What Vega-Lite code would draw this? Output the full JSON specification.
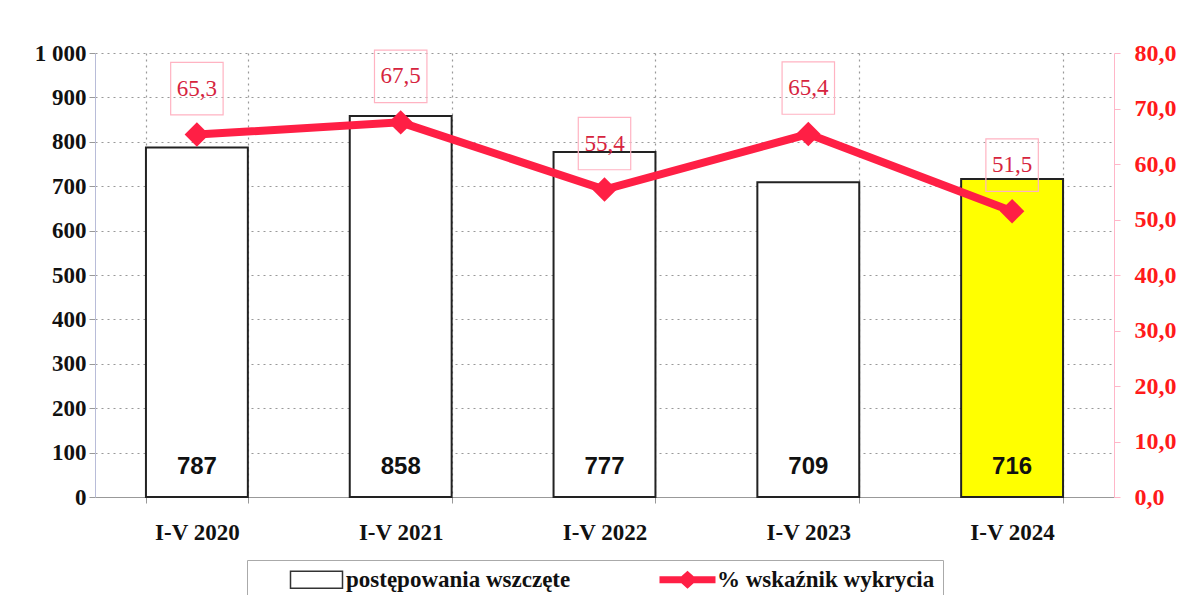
{
  "$schema": "https://vega.github.io/schema/vega-lite/v6.json",
  "width": 1019,
  "height": 444,
  "autosize": {"type": "none"},
  "padding": {"left": 95, "top": 53, "right": 82, "bottom": 98},
  "background": "white",
  "config": {
    "locale": {"number": {"decimal": ",", "thousands": " ", "grouping": [3], "currency": ["", " zł"]}},
    "view": {"stroke": null},
    "style": {"guide-label": {"font": "Liberation Serif", "fontWeight": "bold"}},
    "axis": {"labelFont": "Liberation Serif", "labelFontWeight": "bold", "labelFontSize": 22, "labelColor": "#111", "titleFont": "Liberation Serif"},
    "legend": {"labelFont": "Liberation Serif", "labelFontWeight": "bold", "labelFontSize": 23, "labelColor": "#111"}
  },
  "data": {"values": [
    {"year": "I-V 2020", "count": 787, "pct": 65.3, "series": "postępowania wszczęte"},
    {"year": "I-V 2021", "count": 858, "pct": 67.5, "series": "postępowania wszczęte"},
    {"year": "I-V 2022", "count": 777, "pct": 55.4, "series": "postępowania wszczęte"},
    {"year": "I-V 2023", "count": 709, "pct": 65.4, "series": "postępowania wszczęte"},
    {"year": "I-V 2024", "count": 716, "pct": 51.5, "series": "postępowania wszczęte"}
  ]},
  "encoding": {
    "x": {
      "field": "year", "type": "nominal", "sort": null,
      "scale": {"paddingInner": 0.5, "paddingOuter": 0.25},
      "axis": {
        "title": null, "labelAngle": 0, "labelPadding": 18, "tickBand": "extent",
        "grid": true, "gridDash": [2, 4], "gridColor": "#999", "gridWidth": 1.2,
        "domainColor": "#999", "tickColor": "#999", "tickSize": 6, "labelFontSize": 23
      }
    }
  },
  "layer": [
    {
      "layer": [
        {
          "mark": {"type": "bar", "stroke": "#222", "strokeWidth": 2},
          "encoding": {
            "y": {
              "field": "count", "type": "quantitative",
              "scale": {"domain": [0, 1000]},
              "axis": {
                "title": null, "values": [0,100,200,300,400,500,600,700,800,900,1000], "format": ",.0f",
                "grid": true, "gridDash": [2, 4], "gridColor": "#999", "gridWidth": 1.2,
                "domainColor": "#b8bcd8", "tickColor": "#999", "tickSize": 6, "labelPadding": 3, "labelFontSize": 23
              }
            },
            "color": {
              "condition": {"test": "datum.year === 'I-V 2024'", "value": "#ffff00"},
              "field": "series", "type": "nominal",
              "scale": {"domain": ["postępowania wszczęte", "% wskaźnik wykrycia"], "range": ["#ffffff", "#ff1f45"]},
              "legend": {
                "title": null, "orient": "none", "legendX": 152, "legendY": 507, "direction": "horizontal",
                "strokeColor": "#aaa", "padding": 8, "columnPadding": 55,
                "labelFont": "Liberation Serif", "labelFontWeight": "bold", "labelFontSize": 23, "labelColor": "#111",
                "labelLimit": 400, "symbolSize": 400, "symbolOffset": 50, "labelOffset": 18,
                "symbolType": {"expr": "datum.value === '% wskaźnik wykrycia' ? 'M-2.8,-0.35H2.8V0.35H-2.8Z M-1,0L0,-0.9L1,0L0,0.9Z' : 'M-2.6,-0.85H2.6V0.85H-2.6Z'"},
                "symbolStrokeColor": {"expr": "datum.value === '% wskaźnik wykrycia' ? 'transparent' : '#333'"},
                "symbolStrokeWidth": 1.5,
                "symbolOpacity": 1,
                "encode": {"labels": {"font": {"value": "Liberation Serif"}, "fontWeight": {"value": "bold"}}}
              }
            }
          }
        },
        {
          "mark": {"type": "text", "font": "Liberation Sans", "fontWeight": "bold", "fontSize": 24, "color": "#111", "baseline": "middle", "dy": -30},
          "encoding": {
            "y": {"datum": 0, "type": "quantitative"},
            "text": {"field": "count", "type": "quantitative", "format": "d"}
          }
        }
      ]
    },
    {
      "layer": [
        {
          "mark": {"type": "line", "strokeWidth": 8, "color": "#ff1f45"},
          "encoding": {
            "y": {
              "field": "pct", "type": "quantitative",
              "scale": {"domain": [0, 80]},
              "axis": {
                "title": null, "orient": "right", "values": [0,10,20,30,40,50,60,70,80], "format": ".1f",
                "grid": false, "labelColor": "#ff1a1a", "domainColor": "#ffb6c8", "tickColor": "#ffb6c8",
                "tickSize": 6, "labelPadding": 14, "labelFontSize": 24
              }
            }
          }
        },
        {
          "mark": {"type": "point", "shape": "diamond", "filled": true, "size": 600, "color": "#ff1f45", "opacity": 1},
          "encoding": {"y": {"field": "pct", "type": "quantitative"}}
        },
        {
          "mark": {"type": "point", "shape": "square", "filled": false, "size": 2750, "stroke": "#ffb3c2", "strokeWidth": 1.2, "opacity": 1, "yOffset": -46},
          "encoding": {"y": {"field": "pct", "type": "quantitative"}}
        },
        {
          "mark": {"type": "text", "font": "Liberation Serif", "fontSize": 23, "color": "#d6243e", "baseline": "middle", "dy": -46},
          "encoding": {
            "y": {"field": "pct", "type": "quantitative"},
            "text": {"field": "pct", "type": "quantitative", "format": ".1f"}
          }
        }
      ]
    }
  ],
  "resolve": {"scale": {"y": "independent"}}
}
